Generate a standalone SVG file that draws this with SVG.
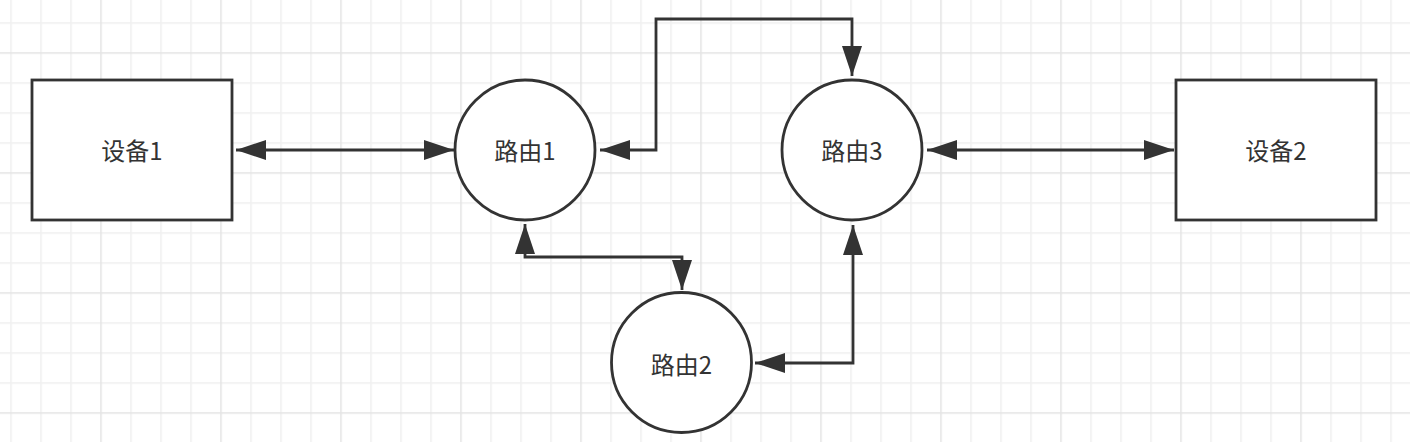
<svg xmlns="http://www.w3.org/2000/svg" width="1410" height="442" viewBox="0 0 1410 442">
<style>
.node{fill:#ffffff;stroke:#333333;stroke-width:2.8}
.lbl{font-family:"Microsoft YaHei","Noto Sans CJK SC",sans-serif;font-size:24px;fill:#333333;text-anchor:middle;dominant-baseline:central}
.conn{fill:none;stroke:#333333;stroke-width:2.8;marker-start:url(#ah);marker-end:url(#ah)}
</style>
<defs>
<marker id="ah" markerUnits="userSpaceOnUse" markerWidth="30" markerHeight="20" refX="30" refY="10" orient="auto-start-reverse" viewBox="0 0 30 20">
<path d="M0,0 L30,10 L0,20 Z" fill="#333333"/>
</marker>
<pattern id="grid" patternUnits="userSpaceOnUse" x="-19.75" y="-67.75" width="120" height="120">
<rect x="30" y="0" width="1.5" height="120" fill="#efefef"/>
<rect x="60" y="0" width="1.5" height="120" fill="#efefef"/>
<rect x="90" y="0" width="1.5" height="120" fill="#efefef"/>
<rect x="0" y="30" width="120" height="1.5" fill="#efefef"/>
<rect x="0" y="60" width="120" height="1.5" fill="#efefef"/>
<rect x="0" y="90" width="120" height="1.5" fill="#efefef"/>
<rect x="0" y="0" width="1.5" height="120" fill="#e3e3e3"/>
<rect x="0" y="0" width="120" height="1.5" fill="#e3e3e3"/>
</pattern>
</defs>
<rect x="0" y="0" width="1410" height="442" fill="#ffffff"/>
<rect x="0" y="0" width="1410" height="442" fill="url(#grid)"/>
<g id="connectors">
<path class="conn" d="M236,150 H454"/>
<path class="conn" d="M600,150 H656 V19 H852 V76"/>
<path class="conn" d="M525,224 V257 H682 V290"/>
<path class="conn" d="M755,363 H853 V225"/>
<path class="conn" d="M927,150 H1174"/>
</g>
<g id="device1">
<rect class="node" x="32" y="80" width="200" height="140"/>
<text class="lbl" x="132" y="149">设备1</text>
</g>
<g id="router1">
<circle class="node" cx="525" cy="150" r="70"/>
<text class="lbl" x="525" y="149">路由1</text>
</g>
<g id="router3">
<circle class="node" cx="852" cy="150" r="70"/>
<text class="lbl" x="852" y="149">路由3</text>
</g>
<g id="router2">
<circle class="node" cx="681.5" cy="362.5" r="70"/>
<text class="lbl" x="681.5" y="363">路由2</text>
</g>
<g id="device2">
<rect class="node" x="1176" y="80" width="200" height="140"/>
<text class="lbl" x="1276" y="149">设备2</text>
</g>
</svg>
